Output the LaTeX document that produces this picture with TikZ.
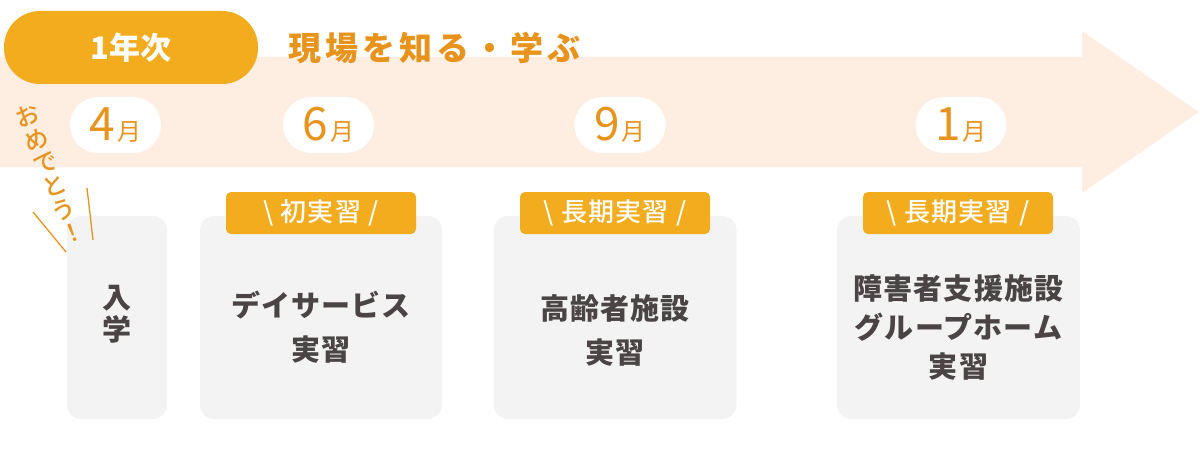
\documentclass[tikz,border=0pt]{standalone}
\usepackage{fontspec}
\setmainfont{Noto Sans CJK JP}
\newfontfamily\jpmedium{Noto Sans CJK JP Medium}
\usetikzlibrary{calc}

\definecolor{bandpeach}{HTML}{FEEDE1}
\definecolor{pillorange}{HTML}{F2AC1D}
\definecolor{textorange}{HTML}{E8931C}
\definecolor{boxgray}{HTML}{F3F3F3}
\definecolor{darktext}{HTML}{4A4444}

\newcommand{\monthtext}[1]{{\fontsize{46}{46}\selectfont #1}\,{\fontsize{24}{26}\selectfont 月}}

\begin{document}
\begin{tikzpicture}[x = 1pt, y = -1pt,
    yearpill/.style = {fill = pillorange, rounded corners = 36pt, minimum width = 254pt, minimum height = 73pt, text = white, font = \bfseries\fontsize{31}{36}\selectfont},
    monthpill/.style = {fill = white, rounded corners = 27.9pt, minimum width = 91pt, minimum height = 56pt, inner sep = 0pt, text = textorange},
    tagbox/.style = {fill = pillorange, rounded corners = 5pt, minimum width = 190pt, minimum height = 42pt, inner sep = 0pt, text = white, font = \jpmedium\fontsize{26}{28}\selectfont\addfontfeature{LetterSpace = 5}},
    stagebox/.style = {fill = boxgray, rounded corners = 14pt, minimum height = 203pt, inner sep = 0pt},
    stagetext/.style = {align = center, text = darktext, font = \bfseries\fontsize{29}{44}\selectfont\addfontfeature{LetterSpace = 4}}]

      \useasboundingbox (0, 0) rectangle (1200, 460);

      % timeline band
      \fill [bandpeach] (0, 57) -- (1082, 57) -- (1082, 31) -- (1199, 112) -- (1082, 193) -- (1082, 167) -- (0, 167) -- cycle;

      \node (year) [yearpill] at (131, 47.5) {1年次};
      \node (theme) [text = textorange, font = \bfseries\fontsize{33}{36}\selectfont\addfontfeature{LetterSpace = 12}] at (434.5, 48) {現場を知る・学ぶ};

      \node (april) [monthpill] at (115.5, 125) {\monthtext{4}};
      \node (june) [monthpill] at (328.5, 125) {\monthtext{6}};
      \node (september) [monthpill] at (620, 125) {\monthtext{9}};
      \node (january) [monthpill] at (961, 125) {\monthtext{1}};

      \node (entry) [stagebox, minimum width = 100pt] at (117, 317.5) {};
      \node (dayservice) [stagebox, minimum width = 242pt] at (321, 317.5) {};
      \node (elderly) [stagebox, minimum width = 243pt] at (615, 317.5) {};
      \node (disability) [stagebox, minimum width = 243pt] at (958.5, 317.5) {};

      \node (entry_text) [stagetext, font = \bfseries\fontsize{29}{32}\selectfont] at ($(entry.center) + (0, -3)$) {入\\学};
      \node (dayservice_text) [stagetext] at ($(dayservice.center) + (0, 10)$) {デイサービス\\実習};
      \node (elderly_text) [stagetext] at ($(elderly.center) + (0, 13)$) {高齢者施設\\実習};
      \node (disability_text) [stagetext, font = \bfseries\fontsize{29}{39}\selectfont\addfontfeature{LetterSpace = 4}] at ($(disability.center) + (0, 10)$) {障害者支援施設\\グループホーム\\実習};

      \node (first_tag) [tagbox] at (321, 213) {\textbackslash\ 初実習 /};
      \node (long_tag) [tagbox] at (615, 213) {\textbackslash\ 長期実習 /};
      \node (long_tag2) [tagbox] at (958, 213) {\textbackslash\ 長期実習 /};

      % congratulations, written downwards
      \node (cheer) [rotate = 21, align = center, text = textorange, font = \jpmedium\fontsize{24}{25}\selectfont] at (50, 174) {お\\め\\で\\と\\う\\！};
      \coordinate (cheer_l1) at (33, 212);
      \coordinate (cheer_l2) at (66, 252);
      \coordinate (cheer_r1) at (87, 188);
      \coordinate (cheer_r2) at (93, 240);
      \draw [textorange, line width = 1.3pt] (cheer_l1) -- (cheer_l2);
      \draw [textorange, line width = 1.3pt] (cheer_r1) -- (cheer_r2);
    \end{tikzpicture}
\end{document}
